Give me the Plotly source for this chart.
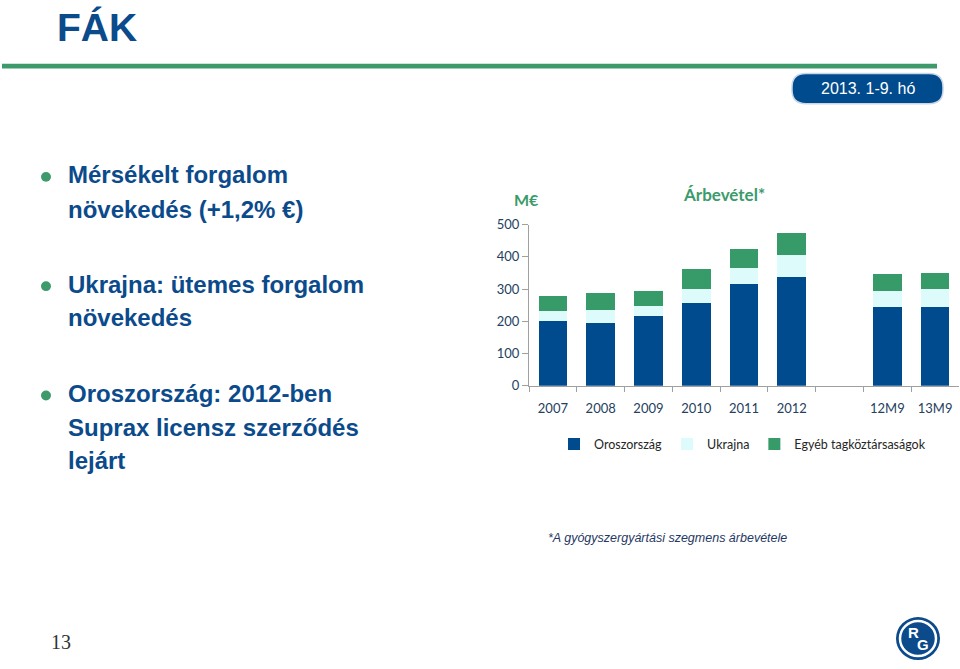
import plotly.graph_objects as go

W, H = 960, 669

categories = ["2007", "2008", "2009", "2010", "2011", "2012", " ", "12M9", "13M9"]
oroszorszag = [200, 194, 215, 256, 315, 337, None, 246, 246]
ukrajna = [31, 40, 32, 45, 52, 68, None, 48, 55]
egyeb = [47, 54, 47, 63, 59, 69, None, 53, 49]
y_ticks = [0, 100, 200, 300, 400, 500]

series_names = ["Oroszország", "Ukrajna", "Egyéb tagköztársaságok"]
series_colors = ["#004B8D", "#DDFBFB", "#379A69"]

bullets = [
    ["Mérsékelt forgalom", "növekedés (+1,2% €)"],
    ["Ukrajna: ütemes forgalom", "növekedés"],
    ["Oroszország: 2012-ben", "Suprax licensz szerződés", "lejárt"],
]


def px(x):
    return x / W


def py(y):
    return 1 - y / H


BLUE = "#0B4A8B"
GREEN = "#3C9A6B"
LABEL = "#243F60"

fig = go.Figure()
for name, vals, col in zip(series_names, [oroszorszag, ukrajna, egyeb], series_colors):
    fig.add_trace(go.Bar(x=categories, y=vals, name=name, marker=dict(color=col, line=dict(width=0))))

annotations = []
shapes = []

# Title
annotations.append(dict(text="<b>FÁK</b>", x=px(55), y=py(20), xref="paper", yref="paper",
                        xanchor="left", yanchor="middle", showarrow=False,
                        font=dict(family="Liberation Sans, Arial", size=39, color=BLUE)))
# Green rule
shapes.append(dict(type="rect", xref="paper", yref="paper", x0=px(2), x1=px(937), y0=py(57), y1=py(62),
                   fillcolor="#3C9A6B", line=dict(width=0), layer="above"))

# pill
x0p, x1p, y0p, y1p = px(792), px(943), py(67), py(98)
ry = 14 / H
rx = 14 / W
path = (f"M {x0p+rx},{y0p} L {x1p-rx},{y0p} Q {x1p},{y0p} {x1p},{y0p-ry} L {x1p},{y1p+ry} Q {x1p},{y1p} {x1p-rx},{y1p} "
        f"L {x0p+rx},{y1p} Q {x0p},{y1p} {x0p},{y1p+ry} L {x0p},{y0p-ry} Q {x0p},{y0p} {x0p+rx},{y0p} Z")
shapes.append(dict(type="path", xref="paper", yref="paper", path=path, fillcolor="#004B8D",
                   line=dict(color="#C9D6E6", width=1.5), layer="above"))
annotations.append(dict(text="2013. 1-9. hó", x=px(868), y=py(82), xref="paper", yref="paper",
                        xanchor="center", yanchor="middle", showarrow=False,
                        font=dict(family="Liberation Sans, Arial", size=16, color="white")))

# Bullets
line_ys = [[171, 206], [283, 317], [395, 430, 464]]
for lines, ys in zip(bullets, line_ys):
    shapes.append(dict(type="circle", xref="paper", yref="paper",
                       x0=px(41), x1=px(51), y0=py(ys[0] + 7), y1=py(ys[0] - 3),
                       fillcolor="#3C9A6B", line=dict(width=0), layer="above"))
    for t, yy in zip(lines, ys):
        annotations.append(dict(text=f"<b>{t}</b>", x=px(66), y=py(yy), xref="paper", yref="paper",
                                xanchor="left", yanchor="middle", showarrow=False,
                                font=dict(family="Liberation Sans, Arial", size=24, color=BLUE)))

# Chart title and unit
annotations.append(dict(text="<b>Árbevétel*</b>", x=px(724), y=py(191), xref="paper", yref="paper",
                        xanchor="center", yanchor="middle", showarrow=False,
                        font=dict(family="Lato, Calibri", size=17, color=GREEN)))
annotations.append(dict(text="<b>M€</b>", x=px(512), y=py(196), xref="paper", yref="paper",
                        xanchor="left", yanchor="middle", showarrow=False,
                        font=dict(family="Lato, Calibri", size=16, color=GREEN)))

# Footnote
annotations.append(dict(text="<i>*A gyógyszergyártási szegmens árbevétele</i>", x=px(667), y=py(543),
                        xref="paper", yref="paper", xanchor="center", yanchor="middle", showarrow=False,
                        font=dict(family="Liberation Sans, Arial", size=12.5, color="#1F3864")))

# Page number
annotations.append(dict(text="13", x=px(61), y=py(650), xref="paper", yref="paper",
                        xanchor="center", yanchor="middle", showarrow=False,
                        font=dict(family="Liberation Serif, Times New Roman", size=20, color="#333333")))

# Logo
cx, cy, r = 918, 646, 22
shapes.append(dict(type="circle", xref="paper", yref="paper", x0=px(cx - r), x1=px(cx + r),
                   y0=py(cy + r), y1=py(cy - r), fillcolor="#0B4A8B", line=dict(width=0), layer="above"))
r2 = 18
shapes.append(dict(type="circle", xref="paper", yref="paper", x0=px(cx - r2), x1=px(cx + r2),
                   y0=py(cy + r2), y1=py(cy - r2), fillcolor="rgba(0,0,0,0)",
                   line=dict(color="white", width=2.5), layer="above"))
annotations.append(dict(text="<b>R</b>", x=px(913), y=py(640), xref="paper", yref="paper",
                        xanchor="center", yanchor="middle", showarrow=False,
                        font=dict(family="Liberation Sans, Arial", size=15, color="white")))
annotations.append(dict(text="<b>G</b>", x=px(923), y=py(652), xref="paper", yref="paper",
                        xanchor="center", yanchor="middle", showarrow=False,
                        font=dict(family="Liberation Sans, Arial", size=15, color="white")))

fig.update_layout(
    width=W, height=H,
    margin=dict(l=0, r=0, t=0, b=0),
    paper_bgcolor="white", plot_bgcolor="white",
    barmode="stack", bargap=0.4,
    showlegend=True,
    legend=dict(orientation="h", x=px(554), y=py(447), xanchor="left", yanchor="middle",
                traceorder="normal",
                font=dict(family="Lato, Calibri", size=12.5, color="#262626"),
                itemwidth=30, tracegroupgap=0, bgcolor="rgba(0,0,0,0)"),
    xaxis=dict(domain=[px(529), px(959)], type="category", categoryorder="array",
               categoryarray=categories, tickson="boundaries", ticks="outside", ticklen=5,
               tickcolor="#A0A0A0", showline=True, linecolor="#A0A0A0", linewidth=1,
               ticklabelstandoff=11,
               showgrid=False, tickfont=dict(family="Lato, Calibri", size=13, color=LABEL)),
    yaxis=dict(domain=[py(387), py(222)], range=[0, 500], tickvals=y_ticks, ticks="outside",
               ticklen=6, tickcolor="#A0A0A0", showline=True, linecolor="#A0A0A0", linewidth=1,
               showgrid=False, zeroline=False,
               tickfont=dict(family="Lato, Calibri", size=13, color=LABEL)),
    annotations=annotations,
    shapes=shapes,
)

fig.write_html("out.html")
